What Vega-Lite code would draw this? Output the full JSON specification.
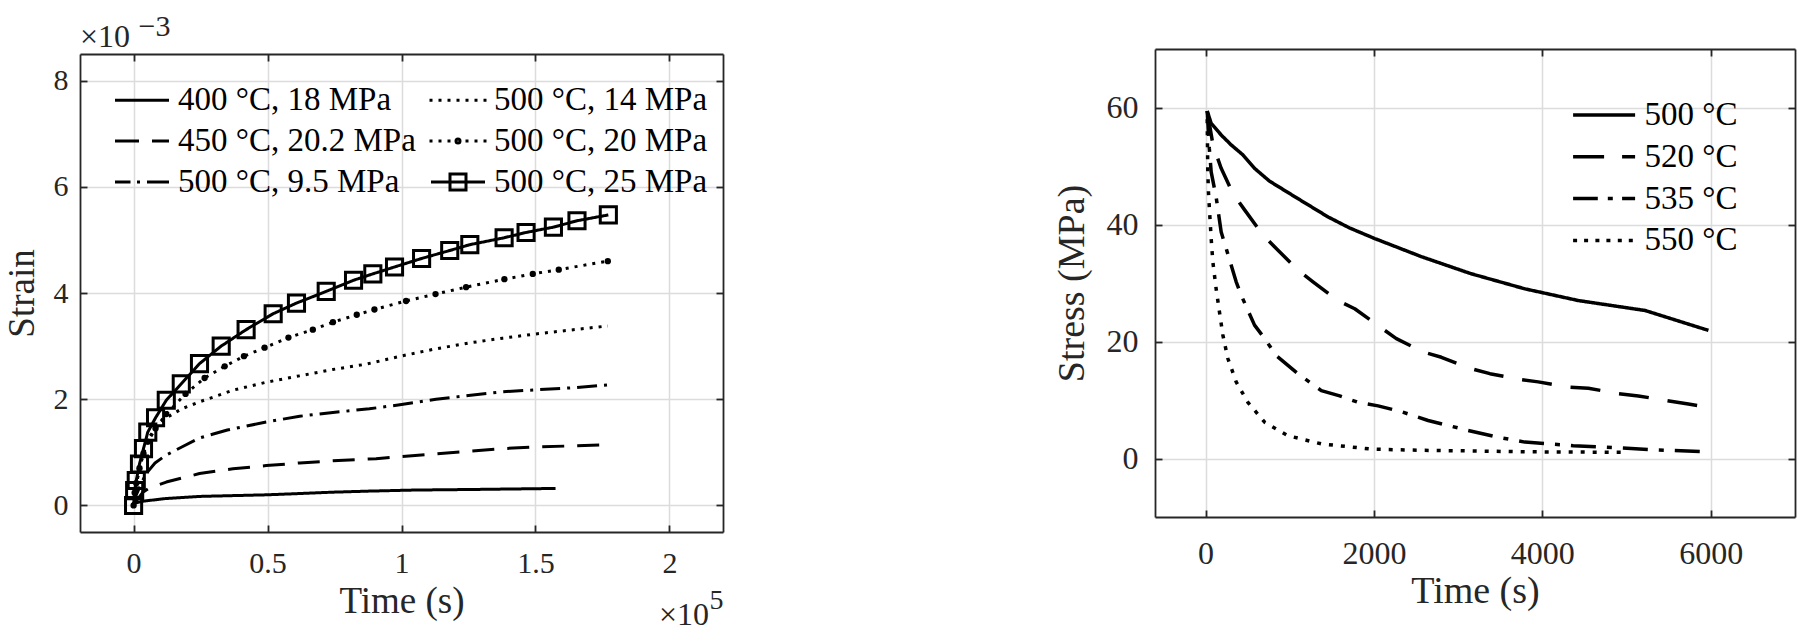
{
  "$schema": "https://vega.github.io/schema/vega-lite/v6.json",
  "padding": {"left": 3, "top": 11, "right": 5, "bottom": 5},
  "background": "white",
  "config": {
    "font": "Liberation Serif",
    "view": {"stroke": null},
    "axis": {"domainColor": "#262626", "domainWidth": 1.8, "tickColor": "#262626", "tickWidth": 1.8, "tickSize": -7, "labelColor": "#262626", "titleColor": "#262626", "gridColor": "#dcdcdc", "gridWidth": 1.5, "labelFont": "Liberation Serif", "titleFont": "Liberation Serif", "titleFontWeight": "normal", "labelFlush": false, "labelOverlap": false},
    "legend": {"labelFont": "Liberation Serif", "labelColor": "#000000"},
    "title": {"font": "Liberation Serif", "fontWeight": "normal", "color": "#262626", "subtitleFont": "Liberation Serif", "subtitleColor": "#262626"}
  },
  "datasets": {
    "strain": [
      {"series": "400 °C, 18 MPa", "time": 0, "strain": 0.00003},
      {"series": "400 °C, 18 MPa", "time": 1000, "strain": 0.00005},
      {"series": "400 °C, 18 MPa", "time": 3500, "strain": 0.00008},
      {"series": "400 °C, 18 MPa", "time": 12000, "strain": 0.00013},
      {"series": "400 °C, 18 MPa", "time": 24600, "strain": 0.00017},
      {"series": "400 °C, 18 MPa", "time": 49500, "strain": 0.0002},
      {"series": "400 °C, 18 MPa", "time": 60000, "strain": 0.00022},
      {"series": "400 °C, 18 MPa", "time": 74400, "strain": 0.00025},
      {"series": "400 °C, 18 MPa", "time": 88000, "strain": 0.00027},
      {"series": "400 °C, 18 MPa", "time": 105000, "strain": 0.00029},
      {"series": "400 °C, 18 MPa", "time": 125400, "strain": 0.0003},
      {"series": "400 °C, 18 MPa", "time": 157500, "strain": 0.00032},
      {"series": "450 °C, 20.2 MPa", "time": 0, "strain": 0},
      {"series": "450 °C, 20.2 MPa", "time": 1500, "strain": 0.00012},
      {"series": "450 °C, 20.2 MPa", "time": 3500, "strain": 0.00025},
      {"series": "450 °C, 20.2 MPa", "time": 6000, "strain": 0.00033},
      {"series": "450 °C, 20.2 MPa", "time": 12200, "strain": 0.00044},
      {"series": "450 °C, 20.2 MPa", "time": 24600, "strain": 0.0006},
      {"series": "450 °C, 20.2 MPa", "time": 37100, "strain": 0.00069},
      {"series": "450 °C, 20.2 MPa", "time": 49500, "strain": 0.00075},
      {"series": "450 °C, 20.2 MPa", "time": 62000, "strain": 0.0008},
      {"series": "450 °C, 20.2 MPa", "time": 74400, "strain": 0.00084},
      {"series": "450 °C, 20.2 MPa", "time": 90500, "strain": 0.00088},
      {"series": "450 °C, 20.2 MPa", "time": 100000, "strain": 0.00092},
      {"series": "450 °C, 20.2 MPa", "time": 112900, "strain": 0.00097},
      {"series": "450 °C, 20.2 MPa", "time": 125000, "strain": 0.00102},
      {"series": "450 °C, 20.2 MPa", "time": 137800, "strain": 0.00107},
      {"series": "450 °C, 20.2 MPa", "time": 150000, "strain": 0.0011},
      {"series": "450 °C, 20.2 MPa", "time": 162700, "strain": 0.00112},
      {"series": "450 °C, 20.2 MPa", "time": 175100, "strain": 0.00114},
      {"series": "500 °C, 9.5 MPa", "time": 0, "strain": 0},
      {"series": "500 °C, 9.5 MPa", "time": 1000, "strain": 0.0002},
      {"series": "500 °C, 9.5 MPa", "time": 2900, "strain": 0.00042},
      {"series": "500 °C, 9.5 MPa", "time": 4700, "strain": 0.0006},
      {"series": "500 °C, 9.5 MPa", "time": 8000, "strain": 0.0008},
      {"series": "500 °C, 9.5 MPa", "time": 12200, "strain": 0.00095},
      {"series": "500 °C, 9.5 MPa", "time": 18000, "strain": 0.0011},
      {"series": "500 °C, 9.5 MPa", "time": 24600, "strain": 0.00127},
      {"series": "500 °C, 9.5 MPa", "time": 35000, "strain": 0.00142},
      {"series": "500 °C, 9.5 MPa", "time": 49500, "strain": 0.00157},
      {"series": "500 °C, 9.5 MPa", "time": 62000, "strain": 0.00168},
      {"series": "500 °C, 9.5 MPa", "time": 74400, "strain": 0.00175},
      {"series": "500 °C, 9.5 MPa", "time": 88000, "strain": 0.00182},
      {"series": "500 °C, 9.5 MPa", "time": 100000, "strain": 0.0019},
      {"series": "500 °C, 9.5 MPa", "time": 112900, "strain": 0.002},
      {"series": "500 °C, 9.5 MPa", "time": 125000, "strain": 0.00207},
      {"series": "500 °C, 9.5 MPa", "time": 137800, "strain": 0.00214},
      {"series": "500 °C, 9.5 MPa", "time": 151500, "strain": 0.00218},
      {"series": "500 °C, 9.5 MPa", "time": 165200, "strain": 0.00222},
      {"series": "500 °C, 9.5 MPa", "time": 177000, "strain": 0.00227},
      {"series": "500 °C, 14 MPa", "time": 0, "strain": 0},
      {"series": "500 °C, 14 MPa", "time": 700, "strain": 0.0003},
      {"series": "500 °C, 14 MPa", "time": 2200, "strain": 0.0007},
      {"series": "500 °C, 14 MPa", "time": 4000, "strain": 0.00105},
      {"series": "500 °C, 14 MPa", "time": 6000, "strain": 0.0013},
      {"series": "500 °C, 14 MPa", "time": 9000, "strain": 0.0015},
      {"series": "500 °C, 14 MPa", "time": 12200, "strain": 0.00165},
      {"series": "500 °C, 14 MPa", "time": 18000, "strain": 0.00182},
      {"series": "500 °C, 14 MPa", "time": 24600, "strain": 0.00195},
      {"series": "500 °C, 14 MPa", "time": 37100, "strain": 0.00217},
      {"series": "500 °C, 14 MPa", "time": 49500, "strain": 0.00232},
      {"series": "500 °C, 14 MPa", "time": 61900, "strain": 0.00244},
      {"series": "500 °C, 14 MPa", "time": 74400, "strain": 0.00256},
      {"series": "500 °C, 14 MPa", "time": 86800, "strain": 0.00266},
      {"series": "500 °C, 14 MPa", "time": 100500, "strain": 0.00282},
      {"series": "500 °C, 14 MPa", "time": 112900, "strain": 0.00295},
      {"series": "500 °C, 14 MPa", "time": 125400, "strain": 0.00306},
      {"series": "500 °C, 14 MPa", "time": 137800, "strain": 0.00315},
      {"series": "500 °C, 14 MPa", "time": 150200, "strain": 0.00323},
      {"series": "500 °C, 14 MPa", "time": 162700, "strain": 0.0033},
      {"series": "500 °C, 14 MPa", "time": 177000, "strain": 0.00338},
      {"series": "500 °C, 20 MPa", "time": 0, "strain": 0},
      {"series": "500 °C, 20 MPa", "time": 400, "strain": 0.00024},
      {"series": "500 °C, 20 MPa", "time": 1000, "strain": 0.00042},
      {"series": "500 °C, 20 MPa", "time": 2200, "strain": 0.0007},
      {"series": "500 °C, 20 MPa", "time": 3700, "strain": 0.00098},
      {"series": "500 °C, 20 MPa", "time": 5300, "strain": 0.0012},
      {"series": "500 °C, 20 MPa", "time": 8200, "strain": 0.00145},
      {"series": "500 °C, 20 MPa", "time": 12200, "strain": 0.00172},
      {"series": "500 °C, 20 MPa", "time": 19400, "strain": 0.0021},
      {"series": "500 °C, 20 MPa", "time": 26500, "strain": 0.0024},
      {"series": "500 °C, 20 MPa", "time": 34000, "strain": 0.00262},
      {"series": "500 °C, 20 MPa", "time": 41200, "strain": 0.00281},
      {"series": "500 °C, 20 MPa", "time": 48900, "strain": 0.00297},
      {"series": "500 °C, 20 MPa", "time": 57800, "strain": 0.00316},
      {"series": "500 °C, 20 MPa", "time": 66900, "strain": 0.00331},
      {"series": "500 °C, 20 MPa", "time": 74400, "strain": 0.00345},
      {"series": "500 °C, 20 MPa", "time": 83300, "strain": 0.00359},
      {"series": "500 °C, 20 MPa", "time": 89900, "strain": 0.00369},
      {"series": "500 °C, 20 MPa", "time": 101700, "strain": 0.00385},
      {"series": "500 °C, 20 MPa", "time": 112700, "strain": 0.00398},
      {"series": "500 °C, 20 MPa", "time": 124100, "strain": 0.00411},
      {"series": "500 °C, 20 MPa", "time": 138400, "strain": 0.00426},
      {"series": "500 °C, 20 MPa", "time": 149000, "strain": 0.00436},
      {"series": "500 °C, 20 MPa", "time": 158700, "strain": 0.00444},
      {"series": "500 °C, 20 MPa", "time": 177000, "strain": 0.0046},
      {"series": "500 °C, 25 MPa", "time": 0, "strain": 0},
      {"series": "500 °C, 25 MPa", "time": 400, "strain": 0.00028},
      {"series": "500 °C, 25 MPa", "time": 1000, "strain": 0.00047},
      {"series": "500 °C, 25 MPa", "time": 2200, "strain": 0.00078},
      {"series": "500 °C, 25 MPa", "time": 3700, "strain": 0.00107},
      {"series": "500 °C, 25 MPa", "time": 5300, "strain": 0.00138},
      {"series": "500 °C, 25 MPa", "time": 8200, "strain": 0.00165},
      {"series": "500 °C, 25 MPa", "time": 12200, "strain": 0.00198},
      {"series": "500 °C, 25 MPa", "time": 17800, "strain": 0.00229},
      {"series": "500 °C, 25 MPa", "time": 24600, "strain": 0.00267},
      {"series": "500 °C, 25 MPa", "time": 32700, "strain": 0.003},
      {"series": "500 °C, 25 MPa", "time": 42000, "strain": 0.00331},
      {"series": "500 °C, 25 MPa", "time": 52100, "strain": 0.00361},
      {"series": "500 °C, 25 MPa", "time": 60800, "strain": 0.00381},
      {"series": "500 °C, 25 MPa", "time": 71900, "strain": 0.00403},
      {"series": "500 °C, 25 MPa", "time": 82100, "strain": 0.00424},
      {"series": "500 °C, 25 MPa", "time": 89300, "strain": 0.00436},
      {"series": "500 °C, 25 MPa", "time": 97400, "strain": 0.00449},
      {"series": "500 °C, 25 MPa", "time": 107500, "strain": 0.00465},
      {"series": "500 °C, 25 MPa", "time": 118000, "strain": 0.0048},
      {"series": "500 °C, 25 MPa", "time": 125500, "strain": 0.00491},
      {"series": "500 °C, 25 MPa", "time": 138300, "strain": 0.00504},
      {"series": "500 °C, 25 MPa", "time": 146500, "strain": 0.00514},
      {"series": "500 °C, 25 MPa", "time": 156700, "strain": 0.00524},
      {"series": "500 °C, 25 MPa", "time": 165500, "strain": 0.00536},
      {"series": "500 °C, 25 MPa", "time": 177200, "strain": 0.00547}
    ],
    "stress": [
      {"series": "500 °C", "time": 20, "stress": 59.4},
      {"series": "500 °C", "time": 67, "stress": 57.3},
      {"series": "500 °C", "time": 186, "stress": 55.3},
      {"series": "500 °C", "time": 305, "stress": 53.6},
      {"series": "500 °C", "time": 444, "stress": 51.9},
      {"series": "500 °C", "time": 582, "stress": 49.6},
      {"series": "500 °C", "time": 761, "stress": 47.4},
      {"series": "500 °C", "time": 1100, "stress": 44.4},
      {"series": "500 °C", "time": 1454, "stress": 41.3},
      {"series": "500 °C", "time": 1712, "stress": 39.4},
      {"series": "500 °C", "time": 2009, "stress": 37.6},
      {"series": "500 °C", "time": 2564, "stress": 34.5},
      {"series": "500 °C", "time": 3150, "stress": 31.6},
      {"series": "500 °C", "time": 3793, "stress": 29.0},
      {"series": "500 °C", "time": 4427, "stress": 27.0},
      {"series": "500 °C", "time": 5220, "stress": 25.3},
      {"series": "500 °C", "time": 5972, "stress": 21.9},
      {"series": "520 °C", "time": 20, "stress": 59.4},
      {"series": "520 °C", "time": 90, "stress": 53.5},
      {"series": "520 °C", "time": 186, "stress": 49.6},
      {"series": "520 °C", "time": 325, "stress": 45.3},
      {"series": "520 °C", "time": 464, "stress": 42.5},
      {"series": "520 °C", "time": 681, "stress": 38.2},
      {"series": "520 °C", "time": 840, "stress": 35.9},
      {"series": "520 °C", "time": 1097, "stress": 32.2},
      {"series": "520 °C", "time": 1276, "stress": 30.2},
      {"series": "520 °C", "time": 1573, "stress": 27.0},
      {"series": "520 °C", "time": 1772, "stress": 25.6},
      {"series": "520 °C", "time": 2069, "stress": 22.5},
      {"series": "520 °C", "time": 2266, "stress": 20.5},
      {"series": "520 °C", "time": 2584, "stress": 18.2},
      {"series": "520 °C", "time": 2801, "stress": 17.3},
      {"series": "520 °C", "time": 3119, "stress": 15.5},
      {"series": "520 °C", "time": 3377, "stress": 14.5},
      {"series": "520 °C", "time": 3734, "stress": 13.5},
      {"series": "520 °C", "time": 3951, "stress": 13.1},
      {"series": "520 °C", "time": 4308, "stress": 12.2},
      {"series": "520 °C", "time": 4546, "stress": 12.0},
      {"series": "520 °C", "time": 4903, "stress": 11.1},
      {"series": "520 °C", "time": 5140, "stress": 10.7},
      {"series": "520 °C", "time": 5477, "stress": 9.9},
      {"series": "520 °C", "time": 5734, "stress": 9.3},
      {"series": "520 °C", "time": 5952, "stress": 8.8},
      {"series": "535 °C", "time": 20, "stress": 59.4},
      {"series": "535 °C", "time": 45, "stress": 53.0},
      {"series": "535 °C", "time": 67, "stress": 49.0},
      {"series": "535 °C", "time": 126, "stress": 44.7},
      {"series": "535 °C", "time": 186, "stress": 38.7},
      {"series": "535 °C", "time": 245, "stress": 35.9},
      {"series": "535 °C", "time": 364, "stress": 30.2},
      {"series": "535 °C", "time": 424, "stress": 27.9},
      {"series": "535 °C", "time": 582, "stress": 22.8},
      {"series": "535 °C", "time": 702, "stress": 20.5},
      {"series": "535 °C", "time": 840, "stress": 17.6},
      {"series": "535 °C", "time": 1097, "stress": 14.5},
      {"series": "535 °C", "time": 1375, "stress": 11.6},
      {"series": "535 °C", "time": 1593, "stress": 10.7},
      {"series": "535 °C", "time": 1811, "stress": 9.6},
      {"series": "535 °C", "time": 2049, "stress": 9.0},
      {"series": "535 °C", "time": 2326, "stress": 8.0},
      {"series": "535 °C", "time": 2643, "stress": 6.5},
      {"series": "535 °C", "time": 3119, "stress": 4.8},
      {"series": "535 °C", "time": 3450, "stress": 3.7},
      {"series": "535 °C", "time": 3793, "stress": 2.8},
      {"series": "535 °C", "time": 4367, "stress": 2.2},
      {"series": "535 °C", "time": 4942, "stress": 1.8},
      {"series": "535 °C", "time": 5300, "stress": 1.5},
      {"series": "535 °C", "time": 5893, "stress": 1.2},
      {"series": "550 °C", "time": 20, "stress": 58.0},
      {"series": "550 °C", "time": 27, "stress": 49.0},
      {"series": "550 °C", "time": 35, "stress": 45.5},
      {"series": "550 °C", "time": 48, "stress": 42.2},
      {"series": "550 °C", "time": 67, "stress": 37.6},
      {"series": "550 °C", "time": 87, "stress": 33.6},
      {"series": "550 °C", "time": 126, "stress": 29.0},
      {"series": "550 °C", "time": 166, "stress": 25.0},
      {"series": "550 °C", "time": 206, "stress": 21.1},
      {"series": "550 °C", "time": 265, "stress": 17.1},
      {"series": "550 °C", "time": 364, "stress": 13.1},
      {"series": "550 °C", "time": 503, "stress": 9.6},
      {"series": "550 °C", "time": 702, "stress": 6.2},
      {"series": "550 °C", "time": 979, "stress": 3.9},
      {"series": "550 °C", "time": 1375, "stress": 2.5},
      {"series": "550 °C", "time": 1969, "stress": 1.6},
      {"series": "550 °C", "time": 2564, "stress": 1.4},
      {"series": "550 °C", "time": 3119, "stress": 1.3},
      {"series": "550 °C", "time": 3800, "stress": 1.15},
      {"series": "550 °C", "time": 4400, "stress": 1.1},
      {"series": "550 °C", "time": 4960, "stress": 1.05}
    ]
  },
  "spacing": 329,
  "resolve": {"scale": {"x": "independent", "y": "independent", "strokeDash": "independent", "shape": "independent"}, "legend": {"shape": "independent"}},
  "hconcat": [
    {
      "spacing": 0,
      "resolve": {"scale": {"x": "independent", "y": "independent", "strokeDash": "independent", "shape": "independent"}, "legend": {"shape": "independent"}},
      "vconcat": [
        {
          "width": 643,
          "height": 1,
          "title": {"text": "\u200B\u2007\u2007\u2007\u2008\u2009\u22123", "subtitle": "×10", "anchor": "start", "frame": "group", "offset": -6, "fontSize": 30, "subtitleFontSize": 32, "subtitlePadding": -20},
          "data": {"values": [{}]},
          "mark": {"type": "point", "opacity": 0},
          "encoding": {}
        },
        {
          "width": 643,
          "height": 478,
          "data": {"name": "strain"},
          "resolve": {"axis": {"x": "independent", "y": "independent"}},
          "layer": [
            {
              "mark": {"type": "line", "color": "black", "strokeWidth": 3, "strokeJoin": "round"},
              "encoding": {
                "x": {"field": "time", "type": "quantitative", "scale": {"domain": [-20000, 220000], "nice": false, "zero": false},
                  "axis": {"orient": "bottom", "values": [0, 50000, 100000, 150000, 200000], "labelExpr": "datum.value / 100000", "title": "Time (s)", "grid": true, "ticks": false, "labelFontSize": 30, "titleFontSize": 37, "labelPadding": 16, "titlePadding": 5}},
                "y": {"field": "strain", "type": "quantitative", "scale": {"domain": [-0.0005, 0.0085], "nice": false, "zero": false},
                  "axis": {"orient": "left", "values": [0, 0.002, 0.004, 0.006, 0.008], "labelExpr": "round(datum.value * 1000)", "title": "Strain", "grid": true, "ticks": false, "labelFontSize": 30, "titleFontSize": 37, "labelPadding": 12, "titlePadding": 12}},
                "strokeDash": {"field": "series", "type": "nominal", "legend": null,
                  "scale": {"domain": ["500 °C, 25 MPa", "500 °C, 20 MPa", "500 °C, 14 MPa", "500 °C, 9.5 MPa", "450 °C, 20.2 MPa", "400 °C, 18 MPa"],
                    "range": [[1, 0], [3, 6], [3, 6], [20, 7, 3, 7], [22, 13], [1, 0]]}}
              }
            },
            {
              "transform": [{"filter": "datum.series === '500 °C, 25 MPa'"}],
              "mark": {"type": "point", "shape": "square", "filled": false, "size": 260, "strokeWidth": 3, "color": "black", "opacity": 1},
              "encoding": {
                "x": {"field": "time", "type": "quantitative",
                  "axis": {"orient": "top", "values": [0, 50000, 100000, 150000, 200000], "labels": false, "title": null, "grid": false}},
                "y": {"field": "strain", "type": "quantitative",
                  "axis": {"orient": "right", "values": [0, 0.002, 0.004, 0.006, 0.008], "labels": false, "title": null, "grid": false}}
              }
            },
            {
              "transform": [{"filter": "datum.series === '500 °C, 20 MPa'"}],
              "mark": {"type": "circle", "size": 40, "color": "black", "opacity": 1},
              "encoding": {
                "x": {"field": "time", "type": "quantitative",
                  "axis": {"orient": "bottom", "values": [0, 50000, 100000, 150000, 200000], "labels": false, "domain": false, "grid": false, "title": "×10\u2008\u2009\u200B", "titleAnchor": "end", "titleFontSize": 32, "titlePadding": 67}},
                "y": {"field": "strain", "type": "quantitative",
                  "axis": {"orient": "left", "values": [0, 0.002, 0.004, 0.006, 0.008], "labels": false, "domain": false, "grid": false, "title": null}}
              }
            },
            {
              "mark": {"type": "point", "filled": false, "color": "black", "opacity": 0},
              "encoding": {
                "x": {"field": "time", "type": "quantitative",
                  "axis": {"orient": "bottom", "labels": false, "ticks": false, "domain": false, "grid": false, "title": "5", "titleAnchor": "end", "titleFontSize": 28, "titlePadding": 54}},
                "y": {"field": "strain", "type": "quantitative", "axis": null},
                "shape": {"field": "series", "type": "nominal",
                  "scale": {"domain": ["400 °C, 18 MPa", "450 °C, 20.2 MPa", "500 °C, 9.5 MPa", "500 °C, 14 MPa", "500 °C, 20 MPa", "500 °C, 25 MPa"],
                    "range": [
                      "M-2.7,0H2.7",
                      "M-2.7,0H-0.3M1,0H2.7",
                      "M-2.7,0H-1.15M-0.5,0H-0.2M0.5,0H2.7",
                      "M-2.85,0h0.3M-1.95,0h0.3M-1.05,0h0.3M-0.15,0h0.3M0.75,0h0.3M1.65,0h0.3M2.55,0h0.3",
                      "M-2.85,0h0.3M-1.95,0h0.3M-1.05,0h0.3M0.75,0h0.3M1.65,0h0.3M2.55,0h0.3M0.2,0A0.2,0.2,0,1,0,-0.2,0A0.2,0.2,0,1,0,0.2,0",
                      "M-2.7,0H2.7M-0.8,-0.8H0.8V0.8H-0.8Z"
                    ]},
                  "legend": {"orient": "none", "legendX": 45.5, "legendY": 29.4, "columns": 2, "title": null, "padding": 0,
                    "labelFontSize": 33, "labelOffset": 19.5, "labelLimit": 0, "symbolSize": 400, "symbolStrokeWidth": 3, "symbolStrokeColor": "black", "symbolFillColor": "transparent", "symbolOpacity": 1, "columnPadding": 7, "rowPadding": 7}}
              }
            }
          ]
        }
      ]
    },
    {
      "width": 640,
      "height": 468,
      "data": {"name": "stress"},
      "resolve": {"axis": {"x": "independent", "y": "independent"}},
      "layer": [
        {
          "mark": {"type": "line", "color": "black", "strokeWidth": 3.5, "strokeJoin": "round"},
          "encoding": {
            "x": {"field": "time", "type": "quantitative", "scale": {"domain": [-600, 7000], "nice": false, "zero": false},
              "axis": {"orient": "bottom", "values": [0, 2000, 4000, 6000], "format": "d", "title": "Time (s)", "grid": true, "ticks": false, "labelFontSize": 32, "titleFontSize": 38, "labelPadding": 21, "titlePadding": 3}},
            "y": {"field": "stress", "type": "quantitative", "scale": {"domain": [-10, 70], "nice": false, "zero": false},
              "axis": {"orient": "left", "values": [0, 20, 40, 60], "title": "Stress (MPa)", "grid": true, "ticks": false, "labelFontSize": 32, "titleFontSize": 38, "labelPadding": 17, "titlePadding": 15}},
            "strokeDash": {"field": "series", "type": "nominal", "legend": null,
              "scale": {"domain": ["550 °C", "535 °C", "520 °C", "500 °C"], "range": [[4, 8], [25, 11, 5, 11], [30, 19], [1, 0]]}}
          }
        },
        {
          "mark": {"type": "line", "color": "black", "strokeWidth": 3.5, "opacity": 0},
          "encoding": {
            "x": {"field": "time", "type": "quantitative",
              "axis": {"orient": "top", "values": [0, 2000, 4000, 6000], "labels": false, "title": null, "grid": false}},
            "y": {"field": "stress", "type": "quantitative",
              "axis": {"orient": "right", "values": [0, 20, 40, 60], "labels": false, "title": null, "grid": false}},
            "detail": {"field": "series", "type": "nominal"}
          }
        },
        {
          "mark": {"type": "point", "filled": false, "color": "black", "opacity": 0},
          "encoding": {
            "x": {"field": "time", "type": "quantitative",
              "axis": {"orient": "bottom", "values": [0, 2000, 4000, 6000], "labels": false, "domain": false, "grid": false, "title": null}},
            "y": {"field": "stress", "type": "quantitative",
              "axis": {"orient": "left", "values": [0, 20, 40, 60], "labels": false, "domain": false, "grid": false, "title": null}},
            "shape": {"field": "series", "type": "nominal",
              "scale": {"domain": ["500 °C", "520 °C", "535 °C", "550 °C"],
                "range": [
                  "M-3.1,0H3.1",
                  "M-3.1,0H0M1.8,0H3.1",
                  "M-3.1,0H-0.63M0.37,0H0.87M1.8,0H3.1",
                  "M-3.1,0h0.4M-2,0h0.4M-0.87,0h0.4M0.23,0h0.4M1.37,0h0.4M2.47,0h0.4"
                ]},
              "legend": {"orient": "none", "legendX": 432.6, "legendY": 49.5, "title": null, "padding": 0,
                "labelFontSize": 33, "labelOffset": 24, "labelLimit": 0, "symbolSize": 400, "symbolStrokeWidth": 3.5, "symbolStrokeColor": "black", "symbolFillColor": "transparent", "symbolOpacity": 1, "rowPadding": 7.8}}
          }
        }
      ]
    }
  ]
}
